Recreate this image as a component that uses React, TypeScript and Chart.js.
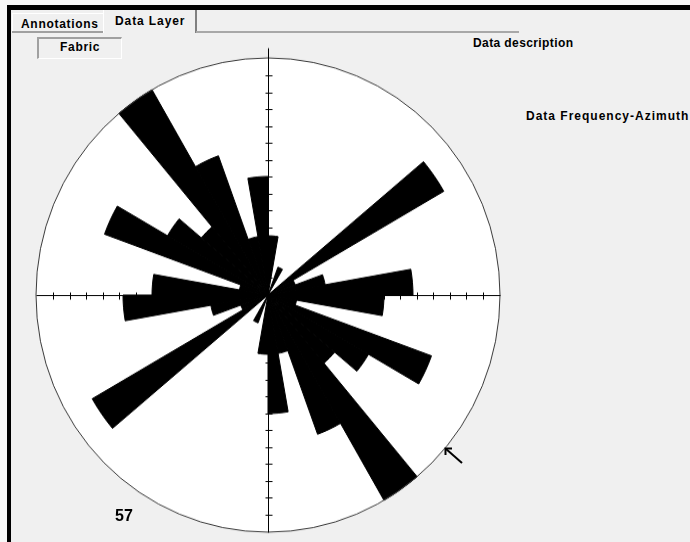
import React, { useEffect, useRef } from 'react';
import { Chart, registerables } from 'chart.js';

Chart.register(...registerables);

// Number of measurements shown in the panel
const totalMeasurements = 57;

// 10° azimuth classes, clockwise from north
const azimuthClasses = [
  '0-10', '10-20', '20-30', '30-40', '40-50', '50-60', '60-70', '70-80', '80-90',
  '90-100', '100-110', '110-120', '120-130', '130-140', '140-150', '150-160', '160-170', '170-180',
  '180-190', '190-200', '200-210', '210-220', '220-230', '230-240', '240-250', '250-260', '260-270',
  '270-280', '280-290', '290-300', '300-310', '310-320', '320-330', '330-340', '340-350', '350-360',
];

// Frequencies (counts) read from the rose, 0°–180°
const countsEastHalf = [2, 0, 1, 0, 0, 7, 1, 2, 5, 4, 1, 6, 4, 3, 8, 5, 2, 4];
// Frequencies (counts) read from the rose, 180°–360° (axial data, mirrored)
const countsWestHalf = [2, 0, 1, 0, 0, 7, 1, 2, 5, 4, 1, 6, 4, 3, 8, 5, 2, 4];

// Radial tick step along the cross axes (percent)
const radialTickStep = 1;

const FONT = '"Liberation Sans", Arial, sans-serif';

const roseFrame = {
  id: 'roseFrame',
  beforeDatasetsDraw(chart: any) {
    const s = chart.scales.r;
    const ctx = chart.ctx;
    const R = s.getDistanceFromCenterForValue(s.max);
    ctx.save();
    ctx.beginPath();
    ctx.arc(s.xCenter, s.yCenter, R, 0, Math.PI * 2);
    ctx.fillStyle = '#ffffff';
    ctx.fill();
    ctx.restore();
  },
  afterDatasetsDraw(chart: any) {
    const s = chart.scales.r;
    const ctx = chart.ctx;
    const R = s.getDistanceFromCenterForValue(s.max);
    const cx = s.xCenter + 0.5;
    const cy = s.yCenter + 0.5;
    ctx.save();
    ctx.lineWidth = 1;
    ctx.strokeStyle = '#3a3a3a';
    ctx.beginPath();
    ctx.arc(s.xCenter, s.yCenter, R, 0, Math.PI * 2);
    ctx.stroke();

    ctx.strokeStyle = '#000000';
    ctx.beginPath();
    ctx.moveTo(cx, cy - R - 10);
    ctx.lineTo(cx, cy + R);
    ctx.moveTo(cx - R, cy);
    ctx.lineTo(cx + R, cy);
    for (let v = radialTickStep; v < s.max - 0.5; v += radialTickStep) {
      const d = s.getDistanceFromCenterForValue(v);
      const up = Math.round(s.yCenter - d) + 0.5;
      const dn = Math.round(s.yCenter + d) + 0.5;
      const lf = Math.round(s.xCenter - d) + 0.5;
      const rt = Math.round(s.xCenter + d) + 0.5;
      ctx.moveTo(cx - 3, up); ctx.lineTo(cx + 4, up);
      ctx.moveTo(cx - 3, dn); ctx.lineTo(cx + 4, dn);
      ctx.moveTo(lf, cy - 3); ctx.lineTo(lf, cy + 4);
      ctx.moveTo(rt, cy - 3); ctx.lineTo(rt, cy + 4);
    }
    ctx.stroke();
    ctx.restore();
  },
};

function RoseChart() {
  const canvasRef = useRef<HTMLCanvasElement | null>(null);
  useEffect(() => {
    if (!canvasRef.current) return;
    const counts = [...countsEastHalf, ...countsWestHalf];
    const percents = counts.map((c) => (c / totalMeasurements) * 100);
    const maxPct = Math.max(...percents);
    const chart = new Chart(canvasRef.current, {
      type: 'polarArea',
      data: {
        labels: azimuthClasses,
        datasets: [
          {
            label: 'Data Frequency-Azimuth',
            data: percents,
            backgroundColor: '#000000',
            borderColor: '#000000',
            borderWidth: 1,
          },
        ],
      },
      options: {
        animation: false,
        responsive: true,
        maintainAspectRatio: false,
        devicePixelRatio: 1,
        layout: { padding: 18 },
        plugins: {
          legend: { display: false },
          tooltip: { enabled: false },
          title: { display: false },
        },
        scales: {
          r: {
            min: 0,
            max: maxPct,
            startAngle: 0,
            ticks: { display: false, stepSize: radialTickStep },
            grid: { display: false },
            angleLines: { display: false },
            pointLabels: { display: false },
          },
        },
      },
      plugins: [roseFrame],
    } as any);
    return () => chart.destroy();
  }, []);
  return <canvas ref={canvasRef} />;
}

const label = (extra: React.CSSProperties): React.CSSProperties => ({
  position: 'absolute',
  fontFamily: FONT,
  fontWeight: 700,
  fontSize: 12,
  lineHeight: '14px',
  color: '#000',
  whiteSpace: 'nowrap',
  ...extra,
});

export default function App() {
  return (
    <div
      style={{
        position: 'fixed',
        left: 0,
        top: 0,
        width: 690,
        height: 542,
        overflow: 'hidden',
        background: '#f8f8f8',
      }}
    >
      {/* window frame */}
      <div style={{ position: 'absolute', left: 11, top: 10, right: 0, bottom: 0, background: '#f0f0f0' }} />
      <div style={{ position: 'absolute', left: 7, top: 5, width: 683, height: 5, background: '#000' }} />
      <div style={{ position: 'absolute', left: 7, top: 5, width: 4, height: 537, background: '#000' }} />

      {/* tabs */}
      <div
        style={{
          position: 'absolute',
          left: 12,
          top: 13,
          width: 90,
          height: 18,
          borderTop: '1px solid #ffffff',
          borderLeft: '1px solid #ffffff',
          borderRight: '1px solid #a0a0a0',
        }}
      />
      <div style={{ position: 'absolute', left: 12, top: 31, width: 91, height: 2, background: '#a0a0a0' }} />
      <div style={label({ left: 21, top: 17, letterSpacing: 0.7 })}>Annotations</div>
      <div
        style={{
          position: 'absolute',
          left: 103,
          top: 10,
          width: 91,
          height: 23,
          borderLeft: '1px solid #ffffff',
          borderRight: '2px solid #808080',
        }}
      />
      <div style={label({ left: 115, top: 14, letterSpacing: 0.9 })}>Data Layer</div>
      <div style={{ position: 'absolute', left: 196, top: 31, width: 323, height: 2, background: '#a8a8a8' }} />

      {/* Fabric button */}
      <div
        style={{
          position: 'absolute',
          left: 37,
          top: 37,
          width: 82,
          height: 19,
          borderTop: '2px solid #a0a0a0',
          borderLeft: '2px solid #a0a0a0',
          borderBottom: '1px solid #ffffff',
          borderRight: '1px solid #ffffff',
        }}
      />
      <div style={label({ left: 60, top: 40, letterSpacing: 0.7 })}>Fabric</div>

      <div style={label({ left: 473, top: 36, letterSpacing: 0.4 })}>Data description</div>
      <div style={label({ left: 526, top: 109, letterSpacing: 1.0 })}>Data Frequency-Azimuth</div>

      {/* rose diagram */}
      <div
        style={{
          position: 'absolute',
          left: 18,
          top: 45,
          width: 500,
          height: 500,
          transform: 'scaleY(1.022)',
          transformOrigin: '250px 250px',
        }}
      >
        <RoseChart />
      </div>

      <div style={label({ left: 115, top: 507, fontSize: 16, lineHeight: '18px' })}>{String(totalMeasurements)}</div>

      {/* mouse pointer */}
      <svg
        style={{ position: 'absolute', left: 440, top: 443, overflow: 'visible' }}
        width={26}
        height={24}
      >
        <path d="M5.5 5.5 L22 20" stroke="#000" strokeWidth={2} fill="none" />
        <path d="M5.5 12 L5.5 5.5 L12 5.5" stroke="#000" strokeWidth={2} fill="none" />
      </svg>
    </div>
  );
}
